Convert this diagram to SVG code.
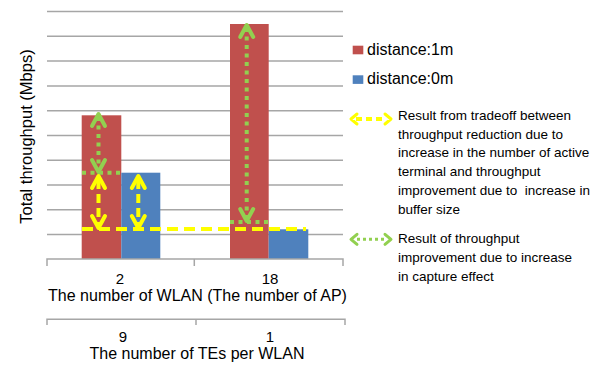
<svg xmlns="http://www.w3.org/2000/svg" width="598" height="365" viewBox="0 0 598 365">
<defs>
<style>
.grid{stroke:#a6a6a6;stroke-width:1.5;fill:none}
.axis{stroke:#a6a6a6;stroke-width:1.5;fill:none}
.red{fill:#c0504d}
.blue{fill:#4f81bd}
.yl{stroke:#ffff00;stroke-width:4;fill:none;stroke-dasharray:11 6}
.gr{stroke:#92d050;stroke-width:4;fill:none;stroke-dasharray:4 4.5}
.yh{stroke:#ffff00;stroke-width:4;fill:none;stroke-linecap:round;stroke-linejoin:round}
.gh{stroke:#92d050;stroke-width:4;fill:none;stroke-linecap:round;stroke-linejoin:round}
text{font-family:"Liberation Sans",Arial,sans-serif;fill:#000}
.num{font-size:15px}
.lab{font-size:16px}
.leg{font-size:16px}
.note{font-size:13.5px}
</style>
</defs>
<rect width="598" height="365" fill="#fff"/>
<g id="grid">
<line class="grid" x1="47" y1="11.5" x2="343" y2="11.5"/>
<line class="grid" x1="47" y1="36.3" x2="343" y2="36.3"/>
<line class="grid" x1="47" y1="61" x2="343" y2="61"/>
<line class="grid" x1="47" y1="86" x2="343" y2="86"/>
<line class="grid" x1="47" y1="110.8" x2="343" y2="110.8"/>
<line class="grid" x1="47" y1="135.5" x2="343" y2="135.5"/>
<line class="grid" x1="47" y1="160.3" x2="343" y2="160.3"/>
<line class="grid" x1="47" y1="185" x2="343" y2="185"/>
<line class="grid" x1="47" y1="209.8" x2="343" y2="209.8"/>
<line class="grid" x1="47" y1="234.6" x2="343" y2="234.6"/>
</g>
<g id="bars">
<rect class="red" x="81.7" y="115.3" width="39.6" height="143.7"/>
<rect class="blue" x="121.3" y="172.7" width="39" height="86.3"/>
<rect class="red" x="230" y="24" width="38.7" height="235"/>
<rect class="blue" x="268.7" y="229.3" width="39.6" height="29.7"/>
</g>
<g id="axes">
<path class="axis" d="M47 266V259H343V266M194.3 259V266"/>
<path class="axis" d="M47 325V319.3H345V325M196 319.3V325"/>
</g>
<g id="connectors">
<line class="gr" x1="82" y1="172.7" x2="121" y2="172.7"/>
<line class="gr" x1="230" y1="222" x2="268.5" y2="222"/>
<line class="yl" x1="82" y1="229" x2="306" y2="229"/>
<line class="gr" x1="98.5" y1="117" x2="98.5" y2="170"/>
<path class="gh" d="M92 126L98.5 114L105 126M92 160L98.5 172L105 160"/>
<line class="yl" x1="98.5" y1="180" x2="98.5" y2="226" style="stroke-dasharray:9 5"/>
<path class="yh" d="M92 188L98.5 176L105 188M92 216L98.5 228L105 216"/>
<line class="yl" x1="138.3" y1="180" x2="138.3" y2="226" style="stroke-dasharray:9 5"/>
<path class="yh" d="M131.8 188L138.3 176L144.8 188M131.8 216L138.3 228L144.8 216"/>
<line class="gr" x1="246.7" y1="28" x2="246.7" y2="219"/>
<path class="gh" d="M240.2 37L246.7 25L253.2 37M240.2 209L246.7 221L253.2 209"/>
</g>
<g id="ylabel">
<text class="leg" transform="translate(32,136.5) rotate(-90)" text-anchor="middle" style="font-size:16.5px">Total throughput (Mbps)</text>
</g>
<g id="xlabels">
<text class="num" x="120" y="284" text-anchor="middle">2</text>
<text class="num" x="270" y="284" text-anchor="middle">18</text>
<text class="lab" x="197.5" y="301" text-anchor="middle">The number of WLAN (The number of AP)</text>
<text class="num" x="123" y="341.5" text-anchor="middle">9</text>
<text class="num" x="270" y="341.5" text-anchor="middle">1</text>
<text class="lab" x="197" y="359" text-anchor="middle">The number of TEs per WLAN</text>
</g>
<g id="legend-red">
<rect class="red" x="352.7" y="45.7" width="10.6" height="8.6"/>
<text class="leg" x="367" y="54.5">distance:1m</text>
</g>
<g id="legend-blue">
<rect class="blue" x="352.7" y="75.3" width="10.6" height="8.6"/>
<text class="leg" x="367" y="84">distance:0m</text>
</g>
<g id="legend-yellow">
<line class="yh" x1="356" y1="119" x2="386" y2="119" style="stroke-dasharray:6 4;stroke-linecap:butt"/>
<path class="yh" d="M357 114L351 119L357 124M385 114L391 119L385 124" style="stroke-width:3"/>
<text class="note" x="398" y="120">Result from tradeoff between</text>
<text class="note" x="398" y="138.7">throughput reduction due to</text>
<text class="note" x="398" y="157.4">increase in the number of active</text>
<text class="note" x="398" y="176.1">terminal and throughput</text>
<text class="note" x="398" y="194.8" xml:space="preserve" style="white-space:pre">improvement due to  increase in</text>
<text class="note" x="398" y="213.5">buffer size</text>
</g>
<g id="legend-green">
<line class="gh" x1="357" y1="239.3" x2="385" y2="239.3" style="stroke-dasharray:3 3;stroke-linecap:butt;stroke-width:3"/>
<path class="gh" d="M357 234.3L351 239.3L357 244.3M385 234.3L391 239.3L385 244.3" style="stroke-width:3"/>
<text class="note" x="398" y="243.3">Result of throughput</text>
<text class="note" x="398" y="262">improvement due to increase</text>
<text class="note" x="398" y="280.7">in capture effect</text>
</g>
</svg>
